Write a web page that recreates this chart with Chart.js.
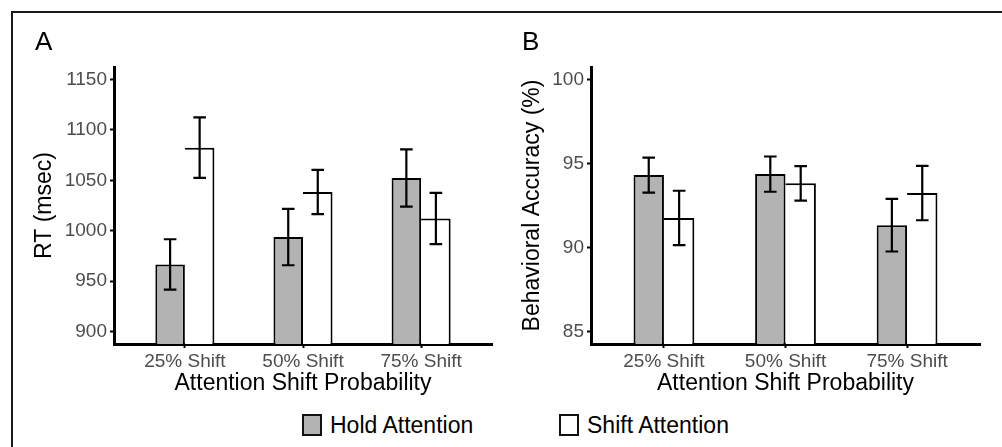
<!DOCTYPE html>
<html>
<head>
<meta charset="utf-8">
<script src="https://cdn.jsdelivr.net/npm/chart.js@4.4.0/dist/chart.umd.min.js"></script>
<style>
  html, body { margin: 0; padding: 0; background: #fff; }
  body { width: 1002px; height: 447px; position: relative; overflow: hidden; font-family: "Liberation Sans", Arial, Helvetica, sans-serif; }
  #frame { position: absolute; left: 11px; top: 11px; right: 0; bottom: 0; border-left: 2px solid #1a1a1a; border-top: 2px solid #1a1a1a; pointer-events: none; }
  #cA { position: absolute; left: 0; top: 0; }
  #cB { position: absolute; left: 500px; top: 0; }
  .lg { position: absolute; top: 412px; display: flex; align-items: center; font-size: 23px; color: #000; line-height: 26px; }
  .lg .box { width: 20px; height: 22px; box-sizing: border-box; border: 2px solid #111; margin-right: 8px; }
</style>
</head>
<body>
<div id="frame"></div>
<canvas id="cA" width="500" height="400"></canvas>
<canvas id="cB" width="502" height="400"></canvas>
<div id="legend"></div>
<script>
// ---- data ----
const categories = ["25% Shift", "50% Shift", "75% Shift"];
const seriesNames = ["Hold Attention", "Shift Attention"];

const rtHold = [966.5, 993.7, 1052.3];
const rtHoldErr = [25, 28, 28.5];
const rtShift = [1082.4, 1038.4, 1012.1];
const rtShiftErr = [30, 22, 25.5];
const rtTicks = [900, 950, 1000, 1050, 1100, 1150];

const accHold = [94.31, 94.37, 91.33];
const accHoldErr = [1.04, 1.05, 1.57];
const accShift = [91.76, 93.82, 93.24];
const accShiftErr = [1.62, 1.03, 1.62];
const accTicks = [85, 90, 95, 100];

// ---- styles ----
const FONT = '"Liberation Sans", Arial, Helvetica, sans-serif';
const fillColors = ["#B3B3B3", "#FFFFFF"];
const tickGrey = "#4D4D4D";

const errorBarPlugin = {
  id: 'errorbars',
  afterDatasetsDraw(chart, args, opts) {
    const ctx = chart.ctx;
    const yScale = chart.scales.y;
    ctx.save();
    ctx.strokeStyle = '#000';
    ctx.lineWidth = 2.2;
    chart.data.datasets.forEach((ds, di) => {
      const meta = chart.getDatasetMeta(di);
      const errs = opts.errors[di];
      meta.data.forEach((bar, i) => {
        const v = ds.data[i].y;
        const e = errs[i];
        const x = bar.x;
        const yT = yScale.getPixelForValue(v + e);
        const yB = yScale.getPixelForValue(v - e);
        const hw = 6.3;
        ctx.beginPath();
        ctx.moveTo(x, yT); ctx.lineTo(x, yB);
        ctx.moveTo(x - hw, yT); ctx.lineTo(x + hw, yT);
        ctx.moveTo(x - hw, yB); ctx.lineTo(x + hw, yB);
        ctx.stroke();
      });
    });
    ctx.restore();
  }
};

function toPoints(vals) { return vals.map((v, i) => ({ x: i + 1, y: v })); }

function makeChart(canvasId, cfg) {
  const datasets = [cfg.hold, cfg.shift].map((vals, k) => ({
    label: seriesNames[k],
    data: toPoints(vals),
    backgroundColor: fillColors[k],
    borderColor: '#000',
    borderWidth: 2,
    borderSkipped: k === 0 ? 'start' : 'left',
    categoryPercentage: 0.5,
    barPercentage: 1.0
  }));
  return new Chart(document.getElementById(canvasId), {
    type: 'bar',
    data: { datasets },
    plugins: [errorBarPlugin],
    options: {
      responsive: false,
      animation: false,
      devicePixelRatio: 1,
      layout: { padding: { left: cfg.padLeft, right: cfg.padRight, top: 0, bottom: 0 } },
      plugins: {
        legend: { display: false },
        tooltip: { enabled: false },
        title: {
          display: true, text: cfg.letter, align: 'start', color: '#000',
          font: { family: FONT, size: 26, weight: 'normal', lineHeight: 1 },
          padding: { top: 29.5, bottom: 11.5 }
        },
        errorbars: { errors: [cfg.holdErr, cfg.shiftErr] }
      },
      scales: {
        x: {
          type: 'linear', min: 0.4, max: 3.6, offset: false, bounds: 'data',
          afterBuildTicks(s) { s.ticks = categories.map((c, i) => ({ value: i + 1 })); },
          afterFit(s) { s.height = 56; },
          ticks: {
            autoSkip: false, maxRotation: 0, color: tickGrey, padding: 2,
            font: { family: FONT, size: 19 },
            callback: (v, i) => categories[i]
          },
          grid: { display: true, offset: false, drawOnChartArea: false, drawTicks: true, tickLength: 4, tickWidth: 2, tickColor: '#000' },
          border: { display: true, color: '#000', width: 3 },
          title: { display: true, text: 'Attention Shift Probability', color: '#000',
            font: { family: FONT, size: 23, lineHeight: 1 }, padding: { top: 0, bottom: 5 } }
        },
        y: {
          type: 'linear', min: cfg.yMin, max: cfg.yMax, beginAtZero: false, bounds: 'data',
          afterBuildTicks(s) { s.ticks = cfg.ticks.map(v => ({ value: v })); },
          afterFit(s) { s.width = cfg.yWidth; },
          ticks: { autoSkip: false, color: tickGrey, padding: 3, font: { family: FONT, size: 19 },
            callback: (v) => String(v) },
          grid: { display: true, drawOnChartArea: false, drawTicks: true, tickLength: 4, tickWidth: 2, tickColor: '#000' },
          border: { display: true, color: '#000', width: 3 },
          title: { display: true, text: cfg.yTitle, color: '#000',
            font: { family: FONT, size: 23, lineHeight: 0.85 }, padding: { top: cfg.yTitlePad, bottom: 0 } }
        }
      }
    }
  });
}

makeChart('cA', {
  letter: 'A', hold: rtHold, shift: rtShift, holdErr: rtHoldErr, shiftErr: rtShiftErr,
  ticks: rtTicks, yMin: 887.5, yMax: 1162.5, yTitle: 'RT (msec)',
  padLeft: 35, padRight: 8, yWidth: 79, yTitlePad: 0
});
makeChart('cB', {
  letter: 'B', hold: accHold, shift: accShift, holdErr: accHoldErr, shiftErr: accShiftErr,
  ticks: accTicks, yMin: 84.25, yMax: 100.75, yTitle: 'Behavioral Accuracy (%)',
  padLeft: 22, padRight: 22, yWidth: 69, yTitlePad: 1
});

// ---- legend (HTML, built from series names) ----
const legendLefts = [302, 559];
const legend = document.getElementById('legend');
seriesNames.forEach((name, k) => {
  const item = document.createElement('div');
  item.className = 'lg';
  item.style.left = legendLefts[k] + 'px';
  const box = document.createElement('span');
  box.className = 'box';
  box.style.background = fillColors[k];
  const txt = document.createElement('span');
  txt.textContent = name;
  item.appendChild(box); item.appendChild(txt);
  legend.appendChild(item);
});
</script>
</body>
</html>
